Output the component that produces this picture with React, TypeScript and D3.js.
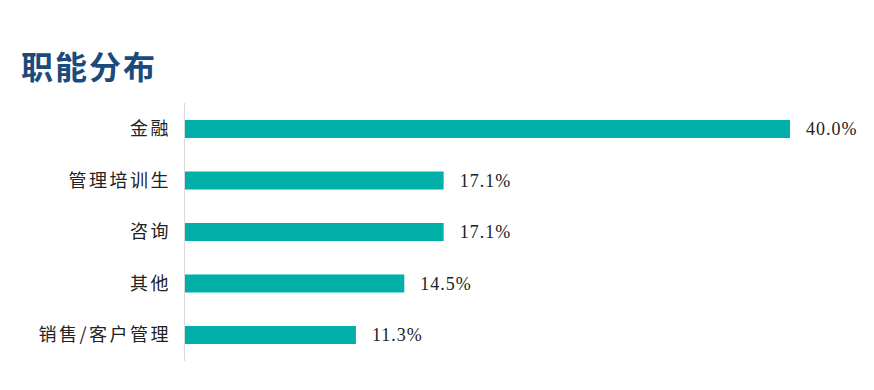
import React from 'react';
import { scaleBand, scaleLinear } from 'd3';

const categories = ['金融', '管理培训生', '咨询', '其他', '销售/客户管理'];
const values = [40.0, 17.1, 17.1, 14.5, 11.3];
const title = '职能分布';

const width = 874;
const height = 390;
const margin = { top: 103, right: 84, bottom: 30, left: 184 };

export default function App() {
  const x = scaleLinear()
    .domain([0, 40])
    .range([margin.left + 1, margin.left + 606]);
  const y = scaleBand()
    .domain(categories)
    .range([margin.top, height - margin.bottom + 1])
    .paddingInner(0.65)
    .paddingOuter(0.33);

  return (
    <svg
      width={width}
      height={height}
      viewBox={`0 0 ${width} ${height}`}
      style={{ position: 'absolute', left: 0, top: 0, background: '#fff' }}
    >
      <text
        x={21}
        y={79}
        fontFamily="'Noto Sans CJK SC', sans-serif"
        fontWeight="bold"
        fontSize={32}
        fill="#1b4a7c"
        letterSpacing={2}
      >
        {title}
      </text>

      <line
        x1={margin.left + 0.5}
        x2={margin.left + 0.5}
        y1={margin.top}
        y2={height - margin.bottom + 1}
        stroke="#d9d9d9"
        strokeWidth={1}
      />

      {categories.map((c, i) => (
        <g key={c}>
          <rect
            x={x(0)}
            y={y(c)}
            width={x(values[i]) - x(0)}
            height={y.bandwidth()}
            fill="#00b0a8"
          />
          <text
            x={171}
            y={y(c)! + y.bandwidth() / 2}
            dy="0.36em"
            textAnchor="end"
            fontFamily="'Noto Sans CJK SC', sans-serif"
            fontSize={18}
            letterSpacing={2.5}
            fill="#222"
          >
            {c}
          </text>
          <text
            x={x(values[i]) + 16}
            y={y(c)! + y.bandwidth() / 2}
            dy="0.36em"
            fontFamily="'Liberation Serif', serif"
            fontSize={18}
            letterSpacing={1}
            fill="#222"
          >
            {values[i].toFixed(1) + '%'}
          </text>
        </g>
      ))}
    </svg>
  );
}
